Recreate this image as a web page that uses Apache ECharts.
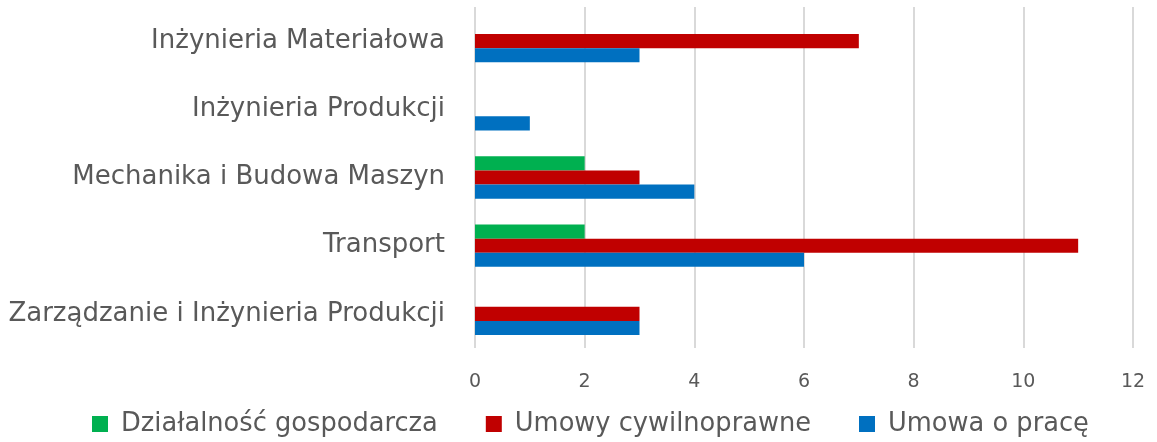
<!DOCTYPE html>
<html>
<head>
<meta charset="utf-8">
<script src="https://cdn.jsdelivr.net/npm/echarts@6/dist/echarts.min.js"></script>
<style>
  html, body { margin: 0; padding: 0; background: #fff; }
  #chart { width: 1157px; height: 442px; }
</style>
</head>
<body>
<div id="chart"></div>
<script>
// categories listed top to bottom
const categories = [
  "Inżynieria Materiałowa",
  "Inżynieria Produkcji",
  "Mechanika i Budowa Maszyn",
  "Transport",
  "Zarządzanie i Inżynieria Produkcji"
];
const seriesNames = ["Działalność gospodarcza", "Umowy cywilnoprawne", "Umowa o pracę"];
const dzialalnosc = [0, 0, 2, 2, 0];
const cywilnoprawne = [7, 0, 3, 11, 3];
const oPrace = [3, 1, 4, 6, 3];
const colors = ["#00B050", "#C00000", "#0070C0"];

const chart = echarts.init(document.getElementById("chart"));
const font = "'DejaVu Sans', sans-serif";

const makeSeries = (name, data, color) => ({
  name: name,
  type: "bar",
  data: data,
  barGap: "0%",
  barCategoryGap: "38%",
  itemStyle: { color: color },
  silent: true
});

chart.setOption({
  animation: false,
  textStyle: { fontFamily: font },
  grid: { left: 475, right: 24, top: 7, bottom: 94 },
  legend: {
    bottom: 0,
    left: 87,
    itemWidth: 16,
    itemHeight: 16,
    itemGap: 48,
    icon: "rect",
    textStyle: { color: "#595959", fontSize: 25.7, fontFamily: font, padding: [0, 0, 0, 8] }
  },
  xAxis: {
    type: "value",
    min: 0,
    max: 12,
    interval: 2,
    axisLine: { show: false },
    axisTick: { show: false },
    axisLabel: { color: "#595959", fontSize: 19, margin: 25 },
    splitLine: { lineStyle: { color: "#D9D9D9", width: 2 } }
  },
  yAxis: {
    type: "category",
    inverse: true,
    data: categories,
    axisLine: { show: false },
    axisTick: { show: false },
    axisLabel: { color: "#595959", fontSize: 26, margin: 30 }
  },
  series: [
    makeSeries(seriesNames[0], dzialalnosc, colors[0]),
    makeSeries(seriesNames[1], cywilnoprawne, colors[1]),
    makeSeries(seriesNames[2], oPrace, colors[2])
  ]
});
</script>
</body>
</html>
